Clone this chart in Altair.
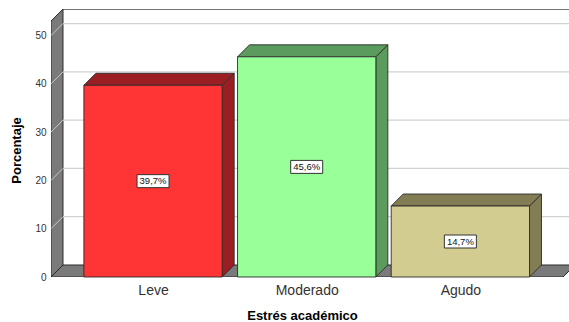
import json
import altair as alt
import pandas as pd

# Distribution of academic stress levels (percent of respondents)
categories = ["Leve", "Moderado", "Agudo"]
percentages = [39.7, 45.6, 14.7]
y_ticks = [0, 10, 20, 30, 40, 50]

# Palette: front faces and darker shading for top/side faces
front_colors = ["#FF3434", "#99FF99", "#D2CC91"]
shade_colors = ["#9B1F22", "#5B9B5D", "#827D55"]

# Scene geometry in data units (x in category steps, y in percent)
X_LO, X_HI, X_MAX = -0.664, 2.668, 2.707
Y_MAX = 55.5
WALL_TOP = 53.0
DX, DY = 0.078, 2.485      # depth offset of the 3D box
HALF = 0.45                # half bar width

EDGE = "#2b2b2b"
WALL = "#7a7a7a"

def pct_label(v):
    return f"{v:.1f}".replace(".", ",") + "%"

bars = pd.DataFrame({
    "cat": categories,
    "idx": list(range(len(categories))),
    "value": percentages,
})
bars["x0"] = bars["idx"] - HALF
bars["x1"] = bars["idx"] + HALF
bars["zero"] = 0.0
bars["mid"] = bars["value"] / 2
bars["label"] = [pct_label(v) for v in percentages]

top_rows, side_rows = [], []
for c, i, v in zip(categories, bars["idx"], percentages):
    x0, x1 = i - HALF, i + HALF
    top_rows += [
        {"cat": c, "x": x0, "y": v, "y2": v},
        {"cat": c, "x": x0 + DX, "y": v, "y2": v + DY},
        {"cat": c, "x": x1, "y": v, "y2": v + DY},
        {"cat": c, "x": x1 + DX, "y": v + DY, "y2": v + DY},
    ]
    side_rows += [
        {"cat": c, "x": x1, "y": 0.0, "y2": v},
        {"cat": c, "x": x1 + DX, "y": DY, "y2": v + DY},
    ]
top_df = pd.DataFrame(top_rows)
side_df = pd.DataFrame(side_rows)

floor_df = pd.DataFrame({
    "x": [X_LO, X_LO + DX, X_HI, X_HI + DX],
    "y": [0.0, 0.0, 0.0, DY],
    "y2": [0.0, DY, DY, DY],
})
wall_df = pd.DataFrame({
    "x": [X_LO, X_LO + DX],
    "y": [0.0, DY],
    "y2": [WALL_TOP, WALL_TOP + DY],
})
grid_vals = [t for t in y_ticks if t > 0]
grid_back = pd.DataFrame({
    "x": [X_LO + DX] * len(grid_vals),
    "x2": [X_MAX] * len(grid_vals),
    "y": [t + DY for t in grid_vals],
})
grid_diag = pd.DataFrame({
    "x": [X_LO] * len(grid_vals),
    "x2": [X_LO + DX] * len(grid_vals),
    "y": grid_vals,
    "y2": [t + DY for t in grid_vals],
})
top_edge = pd.DataFrame({"x": [X_LO + DX], "x2": [X_MAX], "y": [WALL_TOP + DY]})

x_scale = alt.Scale(domain=[X_LO, X_MAX], nice=False, zero=False)
y_scale = alt.Scale(domain=[0, Y_MAX], nice=False, zero=False)

x_axis = alt.Axis(
    values=list(range(len(categories))),
    labelExpr=f"{json.dumps(categories)}[datum.value]",
    grid=False, ticks=False, tickSize=0, domain=False,
    labelFlush=False, labelOverlap=False,
    labelFontSize=14, labelColor="#333333",
    labelBaseline="alphabetic", labelPadding=17.5,
    title="Estrés académico", titleFontSize=13, titleFontWeight="bold",
    titleColor="#000000", titleX=251, titleY=42.5,
    titleAlign="center", titleBaseline="alphabetic",
)
y_axis = alt.Axis(
    values=y_ticks, grid=False, ticks=False, tickSize=0, domain=False,
    labelFontSize=10, labelColor="#333333", labelPadding=5,
    title="Porcentaje", titleFontSize=13, titleFontWeight="bold",
    titleColor="#000000", titleX=-35, titleY=141,
    titleAlign="center", titleBaseline="middle", titleAngle=-90,
)

def X(field):
    return alt.X(field, type="quantitative", scale=x_scale, axis=x_axis)

def Y(field):
    return alt.Y(field, type="quantitative", scale=y_scale, axis=y_axis)

floor = alt.Chart(floor_df).mark_area(
    fill=WALL, stroke=EDGE, strokeWidth=1, clip=True
).encode(x=X("x"), y=Y("y"), y2="y2")

wall = alt.Chart(wall_df).mark_area(
    fill=WALL, stroke=EDGE, strokeWidth=1, clip=True
).encode(x=X("x"), y=Y("y"), y2="y2")

back_grid = alt.Chart(grid_back).mark_rule(
    color="#d2d2d2", strokeWidth=1.3, clip=True
).encode(x=X("x"), x2="x2", y=Y("y"))

diag_grid = alt.Chart(grid_diag).mark_rule(
    color="#c8c8c8", strokeWidth=1, clip=True
).encode(x=X("x"), x2="x2", y=Y("y"), y2="y2")

wall_top = alt.Chart(top_edge).mark_rule(
    color="#444444", strokeWidth=1.2, clip=True
).encode(x=X("x"), x2="x2", y=Y("y"))

shade_fill = alt.Fill("cat:N", scale=alt.Scale(domain=categories, range=shade_colors), legend=None)
front_fill = alt.Fill("cat:N", scale=alt.Scale(domain=categories, range=front_colors), legend=None)

side = alt.Chart(side_df).mark_area(
    stroke=EDGE, strokeWidth=0.9, fillOpacity=1
).encode(x=X("x"), y=Y("y"), y2="y2", fill=shade_fill, detail="cat:N")

top = alt.Chart(top_df).mark_area(
    stroke=EDGE, strokeWidth=0.9, fillOpacity=1
).encode(x=X("x"), y=Y("y"), y2="y2", fill=shade_fill, detail="cat:N")

front = alt.Chart(bars).mark_rect(
    stroke=EDGE, strokeWidth=0.9
).encode(x=X("x0"), x2="x1", y=Y("zero"), y2="value", fill=front_fill)

label_box = alt.Chart(bars).mark_rect(
    fill="white", stroke="#333333", strokeWidth=1,
    xOffset=-16, x2Offset=16, yOffset=-6.5, y2Offset=6.5,
).encode(x=X("idx"), x2="idx", y=Y("mid"), y2="mid")

label_text = alt.Chart(bars).mark_text(
    fontSize=9.5, color="#111111", baseline="middle", align="center"
).encode(x=X("idx"), y=Y("mid"), text="label:N")

chart = alt.layer(
    floor, wall, back_grid, diag_grid, wall_top,
    side, top, front, label_box, label_text,
).resolve_scale(fill="independent").properties(
    width=518, height=268,
    autosize="none",
    padding={"left": 51, "top": 9, "right": 0, "bottom": 45},
).configure(font="Liberation Sans").configure_view(stroke=None)

chart.save("out.html", embed_options={"renderer": "svg", "actions": False})
